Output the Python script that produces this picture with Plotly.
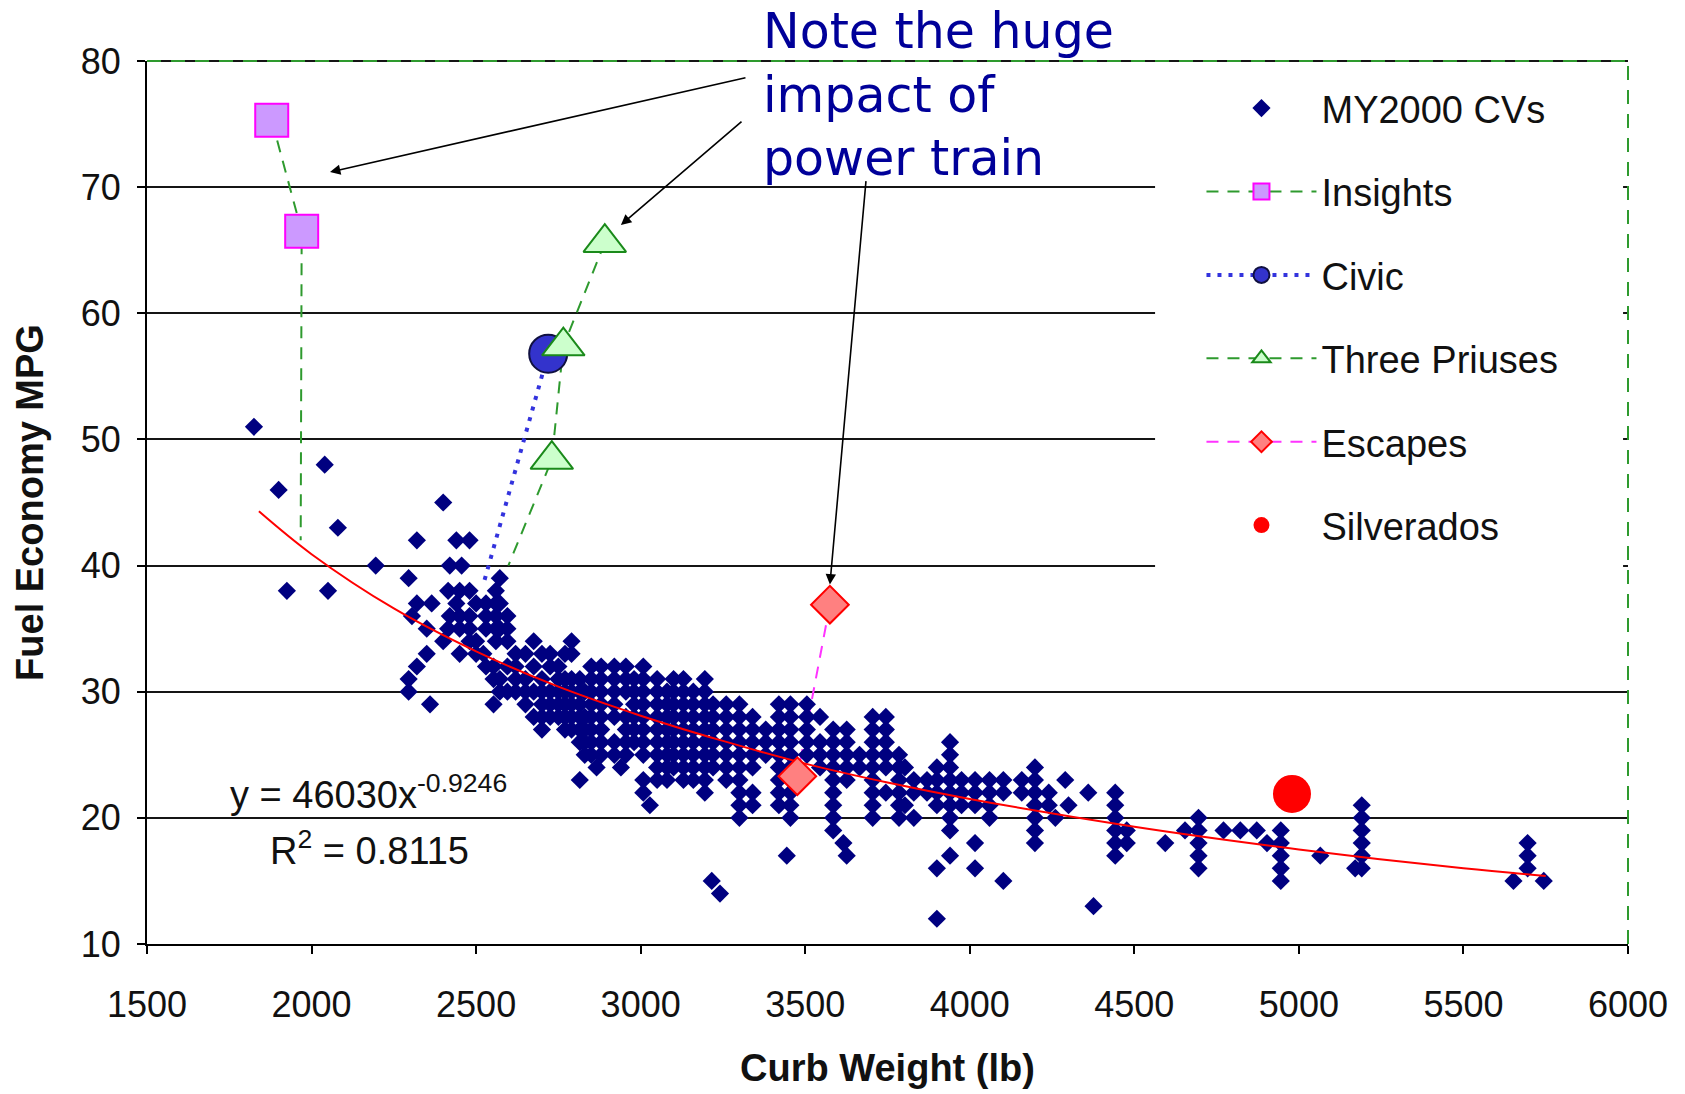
import plotly.graph_objects as go

# ---------------- data ----------------
x_ticks = [1500, 2000, 2500, 3000, 3500, 4000, 4500, 5000, 5500, 6000]
y_ticks = [10, 20, 30, 40, 50, 60, 70, 80]

# MY2000 conventional vehicles: curb weight (lb) / fuel economy (mpg)
cv_weight = [
    1825, 1900, 1925, 2040, 2050, 2080, 2195,
    2295, 2295, 2295, 2305, 2320, 2320, 2320,
    2350, 2350, 2360, 2365, 2400, 2400, 2415, 2415,
    2420, 2420, 2440, 2440, 2450, 2450, 2450, 2450, 2456,
    2480, 2480, 2480, 2480, 2480, 2500, 2500, 2500, 2522,
    2530, 2530, 2530, 2530, 2553, 2553, 2553,
    2560, 2560, 2560, 2560, 2560, 2572, 2572, 2572, 2572, 2572,
    2595, 2595, 2595, 2595, 2595, 2620, 2620, 2620, 2620,
    2650, 2650, 2650, 2650, 2675, 2675, 2675, 2675,
    2700, 2700, 2700, 2700, 2700, 2700, 2725, 2725, 2725, 2725, 2725,
    2750, 2750, 2750, 2750, 2750, 2770, 2770, 2770, 2770, 2770, 2770,
    2790, 2790, 2790, 2790, 2790, 2790, 2790,
    2815, 2815, 2815, 2815, 2815, 2815, 2815, 2830, 2830, 2830, 2830, 2830,
    2850, 2850, 2850, 2850, 2850, 2850, 2850, 2850, 2866,
    2880, 2880, 2880, 2880, 2880, 2880, 2880, 2880,
    2920, 2920, 2920, 2920, 2920, 2920, 2920, 2940,
    2955, 2955, 2955, 2955, 2955, 2955, 2955,
    2980, 2980, 2980, 2980, 2980, 2980,
    3008, 3008, 3008, 3008, 3008, 3008, 3008, 3008, 3008, 3008, 3028,
    3050, 3050, 3050, 3050, 3050, 3050, 3050, 3050, 3050,
    3080, 3080, 3080, 3080, 3080, 3080, 3080, 3080,
    3100, 3100, 3100, 3100, 3100, 3100, 3100, 3100,
    3130, 3130, 3130, 3130, 3130, 3130, 3130, 3130, 3130,
    3160, 3160, 3160, 3160, 3160, 3160, 3160, 3160,
    3195, 3195, 3195, 3195, 3195, 3195, 3195, 3195, 3195, 3195, 3216,
    3220, 3220, 3220, 3220, 3220, 3220, 3241,
    3260, 3260, 3260, 3260, 3260, 3260, 3260,
    3300, 3300, 3300, 3300, 3300, 3300, 3300, 3300, 3300, 3300,
    3340, 3340, 3340, 3340, 3340, 3340, 3340, 3380, 3380, 3380,
    3420, 3420, 3420, 3420, 3420, 3420, 3420, 3420, 3420, 3444,
    3455, 3455, 3455, 3455, 3455, 3455, 3455, 3455, 3455, 3455,
    3505, 3505, 3505, 3505, 3505, 3545, 3545, 3545, 3545,
    3585, 3585, 3585, 3585, 3585, 3585, 3585, 3585, 3585, 3616,
    3626, 3626, 3626, 3626, 3626, 3626, 3665, 3665,
    3705, 3705, 3705, 3705, 3705, 3705, 3705, 3705, 3705,
    3745, 3745, 3745, 3745, 3745, 3745,
    3785, 3785, 3785, 3785, 3785, 3785, 3803, 3803,
    3830, 3830, 3830, 3870, 3870,
    3900, 3900, 3900, 3900, 3900, 3900,
    3940, 3940, 3940, 3940, 3940, 3940, 3940, 3940, 3940,
    3975, 3975, 3975, 4016, 4016, 4016, 4016, 4016,
    4060, 4060, 4060, 4060, 4102, 4102, 4102, 4158, 4158,
    4198, 4198, 4198, 4198, 4198, 4198, 4198,
    4240, 4240, 4260, 4290, 4300, 4360, 4376,
    4442, 4442, 4442, 4442, 4442, 4442, 4477, 4477,
    4594, 4654, 4695, 4695, 4695, 4695, 4695,
    4771, 4822, 4872, 4903, 4945, 4945, 4945, 4945, 4945,
    5065, 5171, 5191, 5191, 5191, 5191, 5191, 5191,
    5652, 5695, 5695, 5695, 5744,
]
cv_mpg = [
    51, 46, 38, 48, 38, 43, 40,
    39, 31, 30, 36, 42, 37, 32,
    35, 33, 29, 37, 45, 34, 38, 35,
    40, 36, 42, 37, 38, 36, 35, 33, 40,
    42, 38, 36, 35, 34, 37, 34, 33, 33,
    37, 36, 35, 32, 32, 31, 29,
    38, 37, 36, 35, 34, 39, 37, 35, 31, 30,
    36, 35, 34, 32, 30, 33, 32, 31, 30,
    33, 31, 30, 29, 34, 32, 30, 28,
    33, 31, 30, 29, 28, 27, 33, 32, 30, 29, 28,
    32, 31, 30, 29, 28, 33, 31, 30, 29, 28, 27,
    34, 33, 31, 30, 29, 28, 27,
    31, 30, 29, 28, 27, 26, 23, 30, 28, 27, 26, 25,
    32, 31, 30, 29, 28, 27, 26, 25, 24,
    32, 31, 30, 29, 28, 27, 26, 25,
    32, 31, 30, 29, 28, 26, 25, 24,
    32, 31, 30, 28, 27, 26, 25,
    31, 30, 29, 28, 27, 26,
    32, 31, 30, 29, 28, 27, 26, 25, 23, 22, 21,
    31, 30, 29, 28, 27, 26, 25, 24, 23,
    30, 29, 28, 27, 26, 25, 24, 23,
    31, 30, 29, 28, 27, 26, 25, 24,
    31, 30, 29, 28, 27, 26, 25, 24, 23,
    30, 29, 28, 27, 26, 25, 24, 23,
    31, 30, 29, 28, 27, 26, 25, 24, 23, 22, 15,
    29, 28, 27, 26, 25, 24, 14,
    29, 28, 27, 26, 25, 24, 23,
    29, 28, 27, 26, 25, 24, 23, 22, 21, 20,
    28, 27, 26, 25, 24, 22, 21, 27, 26, 25,
    29, 28, 27, 26, 25, 24, 23, 22, 21, 17,
    29, 28, 27, 26, 25, 24, 23, 22, 21, 20,
    29, 28, 27, 26, 25, 28, 26, 25, 24,
    27, 26, 25, 24, 23, 22, 21, 20, 19, 18,
    27, 26, 25, 24, 23, 17, 25, 24,
    28, 27, 26, 25, 24, 23, 22, 21, 20,
    28, 27, 26, 25, 24, 22,
    25, 24, 23, 22, 21, 20, 24, 21,
    23, 22, 20, 23, 22,
    24, 23, 22, 21, 16, 12,
    26, 25, 24, 23, 22, 21, 20, 19, 17,
    23, 22, 21, 23, 22, 21, 18, 16,
    23, 22, 21, 20, 23, 22, 15, 23, 22,
    24, 23, 22, 21, 20, 19, 18,
    22, 21, 20, 23, 21, 22, 13,
    22, 21, 20, 19, 18, 17, 19, 18,
    18, 19, 20, 19, 18, 17, 16,
    19, 19, 19, 18, 19, 18, 17, 16, 15,
    17, 16, 21, 20, 19, 18, 17, 16,
    15, 18, 17, 16, 15,
]
assert len(cv_weight) == len(cv_mpg), (len(cv_weight), len(cv_mpg))

# hybrids and their conventional counterpart end points
insight_weight = [1879, 1970]
insight_mpg = [75.3, 66.5]
insight_base = (1967, 42)

civic_weight = [2719]
civic_mpg = [56.8]
civic_base = (2524, 38.7)

prius_weight = [2891, 2765, 2730]
prius_mpg = [65.6, 57.4, 48.4]
prius_base = (2598, 40)

escape_weight = [3575, 3476]
escape_mpg = [36.9, 23.3]

silverado_weight = [4979]
silverado_mpg = [21.9]

# power-law trend line as drawn in the chart
trend_weight = [1840, 2000, 2250, 2500, 2750, 3000, 3250, 3500, 3750, 4000, 4500, 5000, 5500, 5750]
trend_mpg = [44.3, 40.9, 36.6, 33.2, 30.4, 28.1, 26.1, 24.3, 22.8, 21.5, 19.3, 17.5, 16.0, 15.4]

# ---------------- styling ----------------
FONT = "Liberation Sans"
GREEN = "#2E9A2E"
NAVY = "#000080"
DASH = "12px,9px"


def gapped(v):
    out = []
    for i, a in enumerate(v):
        if i:
            out.append(None)
        out.append(a)
    return out


fig = go.Figure()

# connecting lines (drawn beneath the CV cloud)
fig.add_trace(go.Scatter(x=insight_weight + [insight_base[0]], y=insight_mpg + [insight_base[1]],
                         mode="lines", line=dict(color=GREEN, width=2, dash=DASH),
                         showlegend=False, hoverinfo="skip"))
fig.add_trace(go.Scatter(x=civic_weight + [civic_base[0]], y=civic_mpg + [civic_base[1]],
                         mode="lines", line=dict(color="#3333DD", width=4, dash="4px,7px"),
                         showlegend=False, hoverinfo="skip"))
fig.add_trace(go.Scatter(x=prius_weight + [prius_base[0]], y=prius_mpg + [prius_base[1]],
                         mode="lines", line=dict(color=GREEN, width=2, dash=DASH),
                         showlegend=False, hoverinfo="skip"))
fig.add_trace(go.Scatter(x=escape_weight, y=escape_mpg,
                         mode="lines", line=dict(color="#FF33FF", width=2, dash=DASH),
                         showlegend=False, hoverinfo="skip"))

# conventional vehicles
fig.add_trace(go.Scatter(x=cv_weight, y=cv_mpg, mode="markers", name="MY2000 CVs",
                         legendgroup="cv",
                         marker=dict(symbol="diamond", size=14, color=NAVY, line=dict(width=0))))

# trend line
fig.add_trace(go.Scatter(x=trend_weight, y=trend_mpg, mode="lines",
                         line=dict(color="#FF0000", width=2, shape="spline"),
                         showlegend=False, hoverinfo="skip"))

# hybrid markers (legend shows line + marker)
fig.add_trace(go.Scatter(x=gapped(insight_weight), y=gapped(insight_mpg), mode="lines+markers", name="Insights",
                         legendgroup="ins", connectgaps=False,
                         line=dict(color=GREEN, width=2, dash=DASH),
                         marker=dict(symbol="square", size=33, color="#CC99FF", line=dict(color="#FF00FF", width=2))))
fig.add_trace(go.Scatter(x=civic_weight, y=civic_mpg, mode="lines+markers", name="Civic",
                         legendgroup="civ",
                         line=dict(color="#3333DD", width=4, dash="4px,7px"),
                         marker=dict(symbol="circle", size=38, color="#3333CC", line=dict(color="#101040", width=2))))
fig.add_trace(go.Scatter(x=gapped(prius_weight), y=gapped(prius_mpg), mode="lines+markers", name="Three Priuses",
                         legendgroup="pri", connectgaps=False,
                         line=dict(color=GREEN, width=2, dash=DASH),
                         marker=dict(symbol="triangle-up", size=37, color="#CCFFCC", line=dict(color="#1A8A1A", width=2))))
fig.add_trace(go.Scatter(x=gapped(escape_weight), y=gapped(escape_mpg), mode="lines+markers", name="Escapes",
                         legendgroup="esc", connectgaps=False,
                         line=dict(color="#FF33FF", width=2, dash=DASH),
                         marker=dict(symbol="diamond", size=29, color="#FF8080", line=dict(color="#FF0000", width=2))))
fig.add_trace(go.Scatter(x=silverado_weight, y=silverado_mpg, mode="markers", name="Silverados",
                         legendgroup="sil",
                         marker=dict(symbol="circle", size=38, color="#FF0000", line=dict(width=0))))

arrows = [
    ((2056, 71.2), (3323, 78.7)),
    ((2940, 67.0), (3311, 75.3)),
    ((3575, 38.5), (3685, 70.6)),
]
annotations = []
for (hx, hy), (tx, ty) in arrows:
    annotations.append(dict(x=hx, y=hy, ax=tx, ay=ty, xref="x", yref="y", axref="x", ayref="y",
                            text="", showarrow=True, arrowhead=2, arrowsize=1.3, arrowwidth=1.6,
                            arrowcolor="black", standoff=0, startstandoff=0))
annotations.append(dict(x=3365, y=1.068, xref="x", yref="paper", xanchor="left", yanchor="top",
                        text="Note the huge<br>impact of<br>power train", align="left", showarrow=False,
                        font=dict(family="DejaVu Sans", size=49, color="#000099")))
annotations.append(dict(x=1745, y=22.05, xref="x", yref="y", xanchor="left", yanchor="middle",
                        text="y = 46030x<sup>-0.9246</sup>", showarrow=False,
                        font=dict(family=FONT, size=38, color="#111111")))
annotations.append(dict(x=1868, y=17.6, xref="x", yref="y", xanchor="left", yanchor="middle",
                        text="R<sup>2</sup> = 0.8115", showarrow=False,
                        font=dict(family=FONT, size=38, color="#111111")))

shapes = [
    # white backing behind the legend (hides gridlines there)
    dict(type="rect", xref="x", yref="y", x0=4563, x1=5985, y0=39.4, y1=79.4,
         fillcolor="white", line=dict(width=0), layer="between"),
    # plot-area top edge: black line with dashed green border over it, and dashed green right edge
    dict(type="line", xref="paper", yref="paper", x0=0, x1=1, y0=1, y1=1,
         line=dict(color="#151515", width=2)),
    dict(type="line", xref="paper", yref="paper", x0=0, x1=1, y0=1, y1=1,
         line=dict(color=GREEN, width=2, dash="14px,10px")),
    dict(type="line", xref="paper", yref="paper", x0=1, x1=1, y0=0, y1=1,
         line=dict(color=GREEN, width=2, dash="14px,10px")),
]

fig.update_layout(
    width=1685, height=1094,
    margin=dict(l=147, r=57, t=61, b=147),
    paper_bgcolor="white", plot_bgcolor="white",
    font=dict(family=FONT, color="#111111"),
    showlegend=True,
    legend=dict(x=0.712, y=0.982, xanchor="left", yanchor="top", bgcolor="rgba(0,0,0,0)",
                font=dict(family=FONT, size=38, color="#111111"), tracegroupgap=31,
                itemwidth=110, traceorder="grouped"),
    annotations=annotations,
    shapes=shapes,
    xaxis=dict(range=[1500, 6000], tickvals=x_ticks, ticktext=[str(v) for v in x_ticks],
               ticks="outside", ticklen=8, tickwidth=2, tickcolor="black",
               showline=True, linecolor="black", linewidth=2, showgrid=False, zeroline=False,
               ticklabelstandoff=20,
               tickfont=dict(family=FONT, size=36, color="#111111"),
               title=dict(text="<b>Curb Weight (lb)</b>", font=dict(family=FONT, size=38, color="#111111"),
                          standoff=30)),
    yaxis=dict(range=[10, 80], tickvals=y_ticks, ticktext=[str(v) for v in y_ticks],
               ticks="outside", ticklen=8, tickwidth=2, tickcolor="black",
               showline=True, linecolor="black", linewidth=2, showgrid=True, gridcolor="#151515",
               gridwidth=2, zeroline=False,
               ticklabelstandoff=9,
               tickfont=dict(family=FONT, size=36, color="#111111"),
               title=dict(text="<b>Fuel Economy MPG</b>", font=dict(family=FONT, size=38, color="#111111"),
                          standoff=25)),
)

fig.write_html("out.html")
